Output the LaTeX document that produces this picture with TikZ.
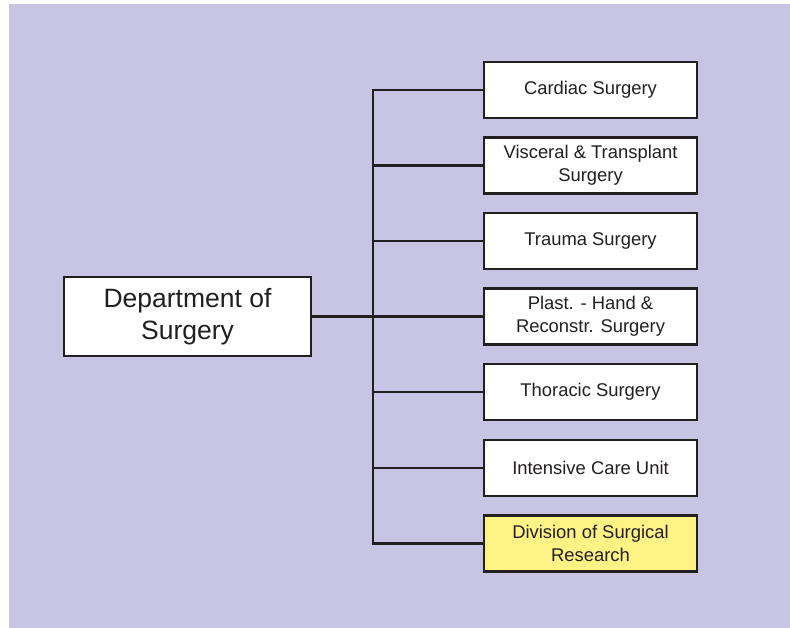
\documentclass[tikz,border=0pt]{standalone}
\usepackage{fontspec}
\setmainfont{Liberation Sans}
\definecolor{bgl}{HTML}{C8C4E4}
\definecolor{ylw}{HTML}{FFF385}
\definecolor{ink}{HTML}{231F20}
\begin{document}
\begin{tikzpicture}[x=1pt,y=-1pt,
  unit/.style={draw=ink,line width=2.4pt,fill=white,minimum width=213pt,minimum height=56pt,
    inner sep=0pt,outer sep=0pt,align=center,text=ink,font=\fontsize{18.4}{23}\selectfont},
  dept/.style={unit,minimum width=247pt,minimum height=79pt,font=\fontsize{26.5}{32}\selectfont},
  link/.style={draw=ink,line width=2.4pt}]
\useasboundingbox (0,0) rectangle (790,628);
\fill[bgl] (9,4) rectangle (790,628);
\node[dept] (dep) at (187.5,316.5) {Department of\\Surgery};
\node[unit] (c1) at (590.5,90) {Cardiac Surgery};
\node[unit] (c2) at (590.5,165.5) {Visceral \& Transplant\\Surgery};
\node[unit] (c3) at (590.5,241) {Trauma Surgery};
\node[unit] (c4) at (590.5,316.5) {Plast. - Hand \&\\Reconstr. Surgery};
\node[unit] (c5) at (590.5,392) {Thoracic Surgery};
\node[unit] (c6) at (590.5,468) {Intensive Care Unit};
\node[unit,fill=ylw] (c7) at (590.5,543.5) {Division of Surgical\\Research};
\coordinate (bus) at (373,316.5);
\draw[link] (c1.west) -| (bus) |- (c7.west);
\draw[link] (dep.east) -- (c4.west);
\foreach \n in {c2,c3,c5,c6} \draw[link] (bus |- \n.west) -- (\n.west);
\end{tikzpicture}
\end{document}
